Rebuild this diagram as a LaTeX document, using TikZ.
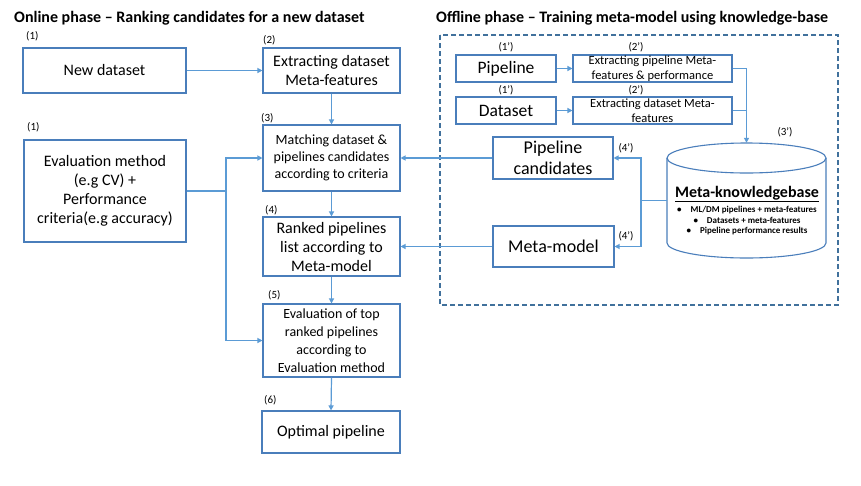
\documentclass[tikz,border=0pt]{standalone}
\usepackage{fontspec}
\setmainfont{Carlito}
\usetikzlibrary{arrows.meta}
\definecolor{boxc}{HTML}{4A7EBB}
\definecolor{arrc}{HTML}{5B9BD5}
\definecolor{dashc}{HTML}{41719C}
\newcommand{\fs}[2]{\fontsize{#1}{#2}\selectfont}
\tikzset{
  box/.style={draw=boxc, line width=1.1pt, align=center, inner sep=0pt, text=black},
  arr/.style={draw=arrc, line width=1.2pt, -{Triangle[length=5pt,width=5pt]}},
  lin/.style={draw=arrc, line width=1.2pt},
  lbl/.style={inner sep=0pt, font=\fs{11}{13}},
  ttl/.style={inner sep=0pt, anchor=west, font=\bfseries\fs{16}{19}},
}
\begin{document}
\begin{tikzpicture}[x=1pt,y=-1pt]
\fill[white] (0,0) rectangle (861,485);
\useasboundingbox (0,0) rectangle (861,485);

% titles
\node[ttl] (t1) at (14,18) {Online phase -- Ranking candidates for a new dataset};
\node[ttl] (t2) at (436,18) {Offline phase -- Training meta-model using knowledge-base};

% dashed frame
\draw[dashc, line width=1.5pt, dash pattern=on 5pt off 3pt] (440,35) rectangle (838,305);

% online boxes
\node[box, minimum width=163, minimum height=45, font=\fs{16}{19}] (nd) at (104.5,70.5) {New dataset};
\node[box, minimum width=137, minimum height=45, font=\fs{16}{19}] (ex) at (331.5,70.5) {Extracting dataset\\Meta-features};
\node[box, minimum width=137, minimum height=66, font=\fs{14}{17}] (mt) at (331.5,158) {Matching dataset \&\\pipelines candidates\\according to criteria};
\node[box, minimum width=162, minimum height=102, font=\fs{16}{19}] (ev) at (105,191) {Evaluation method\\(e.g CV) +\\Performance\\criteria(e.g accuracy)};
\node[box, minimum width=137, minimum height=59, font=\fs{16}{19}] (rk) at (331.5,246.5) {Ranked pipelines\\list according to\\Meta-model};
\node[box, minimum width=137, minimum height=73, font=\fs{14}{18}] (et) at (331.5,340.5) {Evaluation of top\\ranked pipelines\\according to\\Evaluation method};
\node[box, minimum width=138, minimum height=42, font=\fs{16}{19}] (op) at (331,432) {Optimal pipeline};

% offline boxes
\node[box, minimum width=100, minimum height=27, font=\fs{17.5}{20}] (pl) at (506,68.5) {Pipeline};
\node[box, minimum width=159, minimum height=27, font=\fs{12.5}{14.5}] (ep) at (652.5,68.5) {Extracting pipeline Meta-\\features \& performance};
\node[box, minimum width=100, minimum height=27, font=\fs{17.5}{20}] (ds) at (506,110.5) {Dataset};
\node[box, minimum width=159, minimum height=27, font=\fs{12.5}{14.5}] (ed) at (652.5,110.5) {Extracting dataset Meta-\\features};
\node[box, minimum width=120, minimum height=42, font=\fs{18}{21}] (pc) at (553,158) {Pipeline\\candidates};
\node[box, minimum width=121, minimum height=41, font=\fs{18}{21}] (mm) at (553.5,246.5) {Meta-model};

% cylinder
\node[minimum width=159, minimum height=115, inner sep=0pt] (kb) at (746.5,200.5) {};
\draw[boxc, line width=1.1pt] (746.5,158) ellipse [x radius=79.5pt, y radius=15pt];
\draw[boxc, line width=1.1pt] (667,158) -- (667,243) arc[start angle=180, end angle=360, x radius=79.5pt, y radius=15pt] -- (826,158);
\node[inner sep=0pt, font=\bfseries\fs{16}{19}] (kbt) at (747,194) {\underline{Meta-knowledgebase}};
\node[inner sep=0pt, font=\bfseries\fs{9}{10.5}, align=center] (kbl) at (747,221) {•\quad ML/DM pipelines + meta-features\\•\quad Datasets + meta-features\\•\quad Pipeline performance results};

% step labels
\node[lbl, anchor=west] (l1) at (26,36) {(1)};
\node[lbl, anchor=west] (l2) at (263,40) {(2)};
\node[lbl, anchor=west] (l3) at (261,118) {(3)};
\node[lbl, anchor=west] (l1b) at (27,127) {(1)};
\node[lbl, anchor=west] (l4) at (265,210) {(4)};
\node[lbl, anchor=west] (l5) at (268,295) {(5)};
\node[lbl, anchor=west] (l6) at (264,400) {(6)};
\node[lbl] (p1a) at (506,47) {(1’)};
\node[lbl] (p2a) at (636,47) {(2’)};
\node[lbl] (p1b) at (506,90) {(1’)};
\node[lbl] (p2b) at (636,90) {(2’)};
\node[lbl] (p3) at (785,132) {(3’)};
\node[lbl] (p4a) at (626,148) {(4’)};
\node[lbl] (p4b) at (626,236) {(4’)};

% online connectors
\draw[arr] (nd.east) -- (ex.west);
\draw[arr] (ex.south) -- (mt.north);
\draw[arr] (mt.south) -- (rk.north);
\draw[arr] (rk.south) -- (et.north);
\draw[arr] (et.south) -- (op.north);
\coordinate (evj) at (226,191);
\draw[lin] (ev.east) -- (evj);
\draw[arr] (evj) |- (mt.west);
\draw[arr] (evj) |- (et.west);

% offline connectors
\draw[arr] (pl.east) -- (ep.west);
\draw[arr] (ds.east) -- (ed.west);
\draw[arr] (ep.east) -| (kb.north);
\draw[lin] (ed.east) -- (ed.east -| kb.north);
\coordinate (kj) at (641,200.5);
\draw[lin] (kb.west) -- (kj);
\draw[arr] (kj) |- (pc.east);
\draw[arr] (kj) |- (mm.east);
\draw[arr] (pc.west) -- (mt.east);
\draw[arr] (mm.west) -- (rk.east);
\end{tikzpicture}
\end{document}
